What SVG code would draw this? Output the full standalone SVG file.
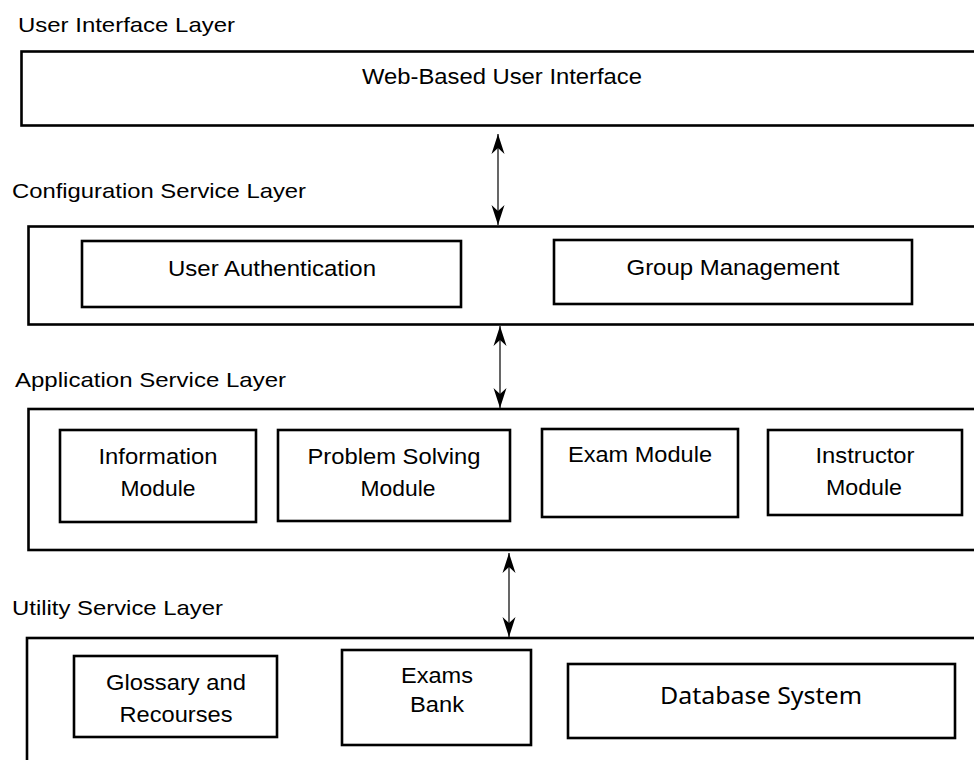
<svg xmlns="http://www.w3.org/2000/svg" width="974" height="760" viewBox="0 0 974 760">
<defs>
<style>
.layer{fill:#fff;stroke:#000;stroke-width:2.6}
.box{fill:#fff;stroke:#000;stroke-width:2.6}
.lbl{font-family:"Liberation Sans",Arial,sans-serif;font-size:21px;fill:#000}
.t{font-family:"Liberation Sans",Arial,sans-serif;font-size:22px;fill:#000;text-anchor:middle}
.db{font-family:"Noto Sans","Open Sans",sans-serif;font-size:24px;fill:#000;text-anchor:middle}
.conn{stroke:#000;stroke-width:1.2;fill:none;marker-start:url(#ah);marker-end:url(#ah)}
</style>
<marker id="ah" viewBox="0 0 20 14" refX="20" refY="7" markerWidth="21" markerHeight="14" markerUnits="userSpaceOnUse" orient="auto-start-reverse">
<path d="M20,7 L0,0.5 L6,7 L0,13.5 Z" fill="#000"/>
</marker>
</defs>
<rect width="974" height="760" fill="#fff"/>

<g id="ui-layer">
<text class="lbl" x="18" y="32" textLength="217" lengthAdjust="spacingAndGlyphs">User Interface Layer</text>
<rect class="layer" x="21.5" y="51.5" width="1000" height="74"/>
<g id="web-ui">
<text class="t" x="502" y="84" textLength="280" lengthAdjust="spacingAndGlyphs">Web-Based User Interface</text>
</g>
</g>

<g id="config-layer">
<text class="lbl" x="12" y="198" textLength="294" lengthAdjust="spacingAndGlyphs">Configuration Service Layer</text>
<rect class="layer" x="28.5" y="226.5" width="1000" height="98"/>
<g id="user-auth">
<rect class="box" x="82" y="241" width="379" height="66"/>
<text class="t" x="272" y="276" textLength="208" lengthAdjust="spacingAndGlyphs">User Authentication</text>
</g>
<g id="group-mgmt">
<rect class="box" x="554" y="240" width="358" height="64"/>
<text class="t" x="733" y="275" textLength="213" lengthAdjust="spacingAndGlyphs">Group Management</text>
</g>
</g>

<g id="app-layer">
<text class="lbl" x="15" y="387" textLength="271" lengthAdjust="spacingAndGlyphs">Application Service Layer</text>
<rect class="layer" x="28.5" y="409" width="1000" height="141"/>
<g id="info-module">
<rect class="box" x="60" y="430" width="196" height="92"/>
<text class="t" x="158" y="464" textLength="119" lengthAdjust="spacingAndGlyphs">Information</text>
<text class="t" x="158" y="496" textLength="75" lengthAdjust="spacingAndGlyphs">Module</text>
</g>
<g id="problem-module">
<rect class="box" x="278" y="430" width="232" height="91"/>
<text class="t" x="394" y="464" textLength="173" lengthAdjust="spacingAndGlyphs">Problem Solving</text>
<text class="t" x="398" y="496" textLength="75" lengthAdjust="spacingAndGlyphs">Module</text>
</g>
<g id="exam-module">
<rect class="box" x="542" y="429" width="196" height="88"/>
<text class="t" x="640" y="462" textLength="144" lengthAdjust="spacingAndGlyphs">Exam Module</text>
</g>
<g id="instructor-module">
<rect class="box" x="768" y="430" width="194" height="85"/>
<text class="t" x="865" y="463" textLength="99" lengthAdjust="spacingAndGlyphs">Instructor</text>
<text class="t" x="864" y="495" textLength="76" lengthAdjust="spacingAndGlyphs">Module</text>
</g>
</g>

<g id="utility-layer">
<text class="lbl" x="12" y="615" textLength="211" lengthAdjust="spacingAndGlyphs">Utility Service Layer</text>
<rect class="layer" x="27" y="638" width="1000" height="200"/>
<g id="glossary">
<rect class="box" x="74" y="656" width="203" height="81"/>
<text class="t" x="176" y="690" textLength="140" lengthAdjust="spacingAndGlyphs">Glossary and</text>
<text class="t" x="176" y="722" textLength="113" lengthAdjust="spacingAndGlyphs">Recourses</text>
</g>
<g id="exams-bank">
<rect class="box" x="342" y="650" width="189" height="95"/>
<text class="t" x="437" y="683" textLength="72" lengthAdjust="spacingAndGlyphs">Exams</text>
<text class="t" x="437" y="712" textLength="54" lengthAdjust="spacingAndGlyphs">Bank</text>
</g>
<g id="database">
<rect class="box" x="568" y="664" width="387" height="74"/>
<text class="db" x="761" y="704" textLength="202" lengthAdjust="spacingAndGlyphs">Database System</text>
</g>
</g>

<g id="connectors">
<line class="conn" x1="498" y1="134" x2="498" y2="225"/>
<line class="conn" x1="500" y1="326" x2="500" y2="408"/>
<line class="conn" x1="509" y1="553" x2="509" y2="637"/>
</g>
</svg>
